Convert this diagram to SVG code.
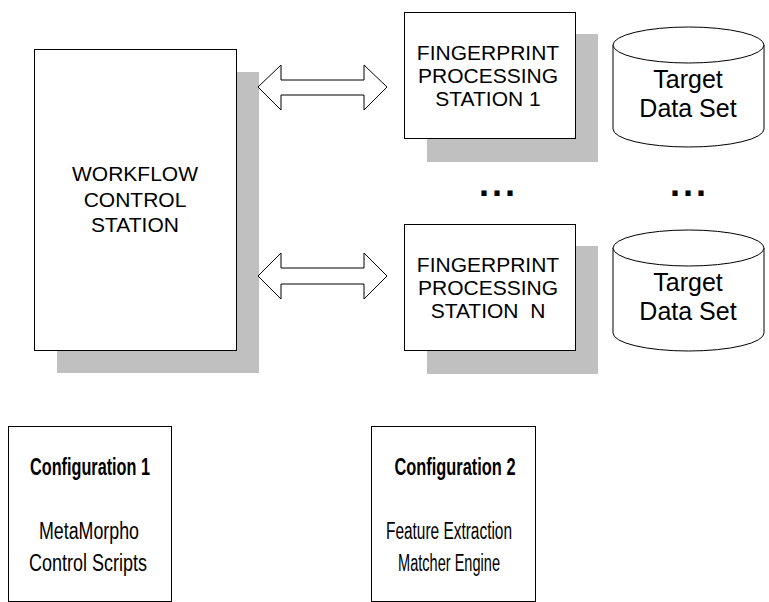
<svg xmlns="http://www.w3.org/2000/svg" width="769" height="602" viewBox="0 0 769 602">
<style>
.box{fill:#fff;stroke:#000;stroke-width:1}
.shadow{fill:#c0c0c0;stroke:none}
.t{font-family:"Liberation Sans",Arial,sans-serif;fill:#000;text-anchor:middle}
.cap{font-size:21px}
.cyl{font-size:25px}
.cfgh{font-size:23px;font-weight:bold}
.cfgb{font-size:23px}
.dots{font-family:"Liberation Sans",Arial,sans-serif;font-weight:bold;font-size:36px;letter-spacing:3px}
.arrow{fill:#fff;stroke:#000;stroke-width:1}
</style>
<rect width="769" height="602" fill="#fff"/>
<g id="workflow">
<rect class="shadow" x="57" y="72" width="202" height="301"/>
<rect class="box" x="34.5" y="49.5" width="202" height="301"/>
<text class="t cap" x="135" y="181">WORKFLOW</text>
<text class="t cap" x="135" y="206.5">CONTROL</text>
<text class="t cap" x="135" y="231.5">STATION</text>
</g>
<g id="fp1">
<rect class="shadow" x="427" y="34" width="171" height="128"/>
<rect class="box" x="404.5" y="12.5" width="171" height="126"/>
<text class="t cap" x="488" y="60">FINGERPRINT</text>
<text class="t cap" x="488" y="83">PROCESSING</text>
<text class="t cap" x="488" y="106">STATION 1</text>
</g>
<g id="fpn">
<rect class="shadow" x="427" y="246" width="171" height="128"/>
<rect class="box" x="404.5" y="224.5" width="171" height="126"/>
<text class="t cap" x="488" y="272">FINGERPRINT</text>
<text class="t cap" x="488" y="295">PROCESSING</text>
<text class="t cap" x="488" y="318" xml:space="preserve">STATION  N</text>
</g>
<g id="db1">
<path class="box" d="M613,45 A75.5,18 0 0 1 764,45 L764,129 A75.5,18 0 0 1 613,129 Z"/>
<path class="box" fill="none" d="M613,45 A75.5,18 0 0 0 764,45"/>
<text class="t cyl" x="688" y="88">Target</text>
<text class="t cyl" x="688" y="117">Data Set</text>
</g>
<g id="dbn">
<path class="box" d="M613,248 A75.5,18 0 0 1 764,248 L764,333 A75.5,18 0 0 1 613,333 Z"/>
<path class="box" fill="none" d="M613,248 A75.5,18 0 0 0 764,248"/>
<text class="t cyl" x="688" y="291">Target</text>
<text class="t cyl" x="688" y="320">Data Set</text>
</g>
<g id="ellipsis1"><text class="dots" x="479" y="196">...</text></g>
<g id="ellipsis2"><text class="dots" x="670" y="196">...</text></g>
<g id="cfg1">
<rect class="box" x="8.5" y="426.5" width="163" height="175"/>
<text class="t cfgh" x="90" y="475" textLength="120" lengthAdjust="spacingAndGlyphs">Configuration 1</text>
<text class="t cfgb" x="89" y="539" textLength="100" lengthAdjust="spacingAndGlyphs">MetaMorpho</text>
<text class="t cfgb" x="88" y="571" textLength="118" lengthAdjust="spacingAndGlyphs">Control Scripts</text>
</g>
<g id="cfg2">
<rect class="box" x="371.5" y="426.5" width="164" height="175"/>
<text class="t cfgh" x="455" y="475" textLength="121" lengthAdjust="spacingAndGlyphs">Configuration 2</text>
<text class="t cfgb" x="449" y="539" textLength="126" lengthAdjust="spacingAndGlyphs">Feature Extraction</text>
<text class="t cfgb" x="449" y="571" textLength="102" lengthAdjust="spacingAndGlyphs">Matcher Engine</text>
</g>
<g id="connectors">
<polygon class="arrow" points="258,87 281,65 281,80 364,80 364,65 387,87 364,110 364,95 281,95 281,110"/>
<polygon class="arrow" points="258,276 281,253 281,268 364,268 364,253 387,276 364,299 364,284 281,284 281,299"/>
</g>
</svg>
